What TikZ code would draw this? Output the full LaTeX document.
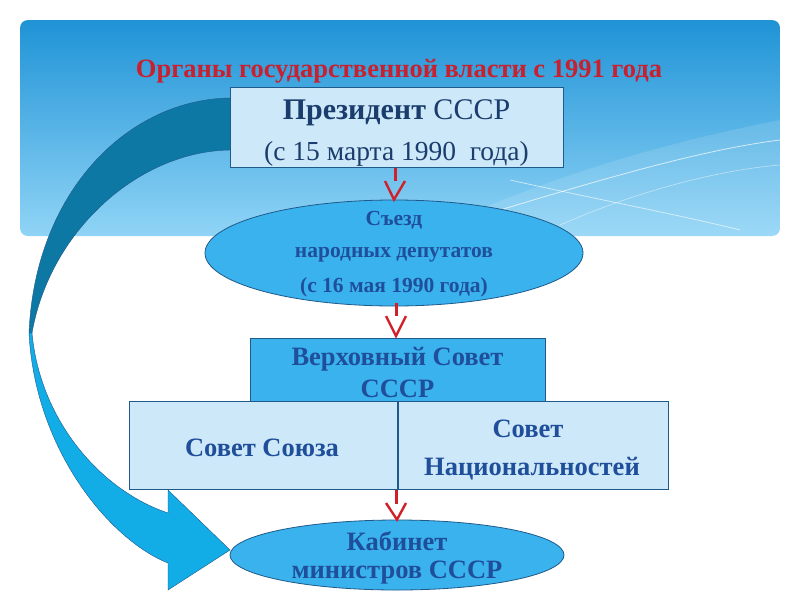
\documentclass[tikz,border=0pt]{standalone}
\usepackage{fontspec}
\setmainfont{Liberation Serif}
\usetikzlibrary{shapes.geometric}
\definecolor{bgtop}{HTML}{1F93D6}
\definecolor{bgbot}{HTML}{90D4F6}
\definecolor{titlered}{HTML}{C8202E}
\definecolor{lightbox}{HTML}{CDE8F8}
\definecolor{midblue}{HTML}{3AB2EE}
\definecolor{navy}{HTML}{1B3D6D}
\definecolor{txtblue}{HTML}{1F4E9A}
\definecolor{edgeblue}{HTML}{1F5A8A}
\definecolor{darkteal}{HTML}{0E78A4}
\definecolor{brightblue}{HTML}{12ACE6}
\definecolor{arrowred}{HTML}{D0202A}
\tikzset{
  lightrect/.style={draw=edgeblue, line width=0.8pt, fill=lightbox},
  midrect/.style={draw=edgeblue, line width=0.8pt, fill=midblue},
  oval/.style={ellipse, draw=edgeblue, line width=0.8pt, fill=midblue, inner sep=0pt},
  redstem/.style={draw=arrowred, line width=3pt},
  redvee/.style={draw=arrowred, line width=2.4pt, line join=miter},
  boxtext/.style={font=\bfseries\fontsize{26.5}{30}\selectfont, text=txtblue, align=center},
  ovaltext/.style={font=\bfseries\fontsize{21.5}{24}\selectfont, text=txtblue},
}
\begin{document}
\begin{tikzpicture}[x=1pt,y=-1pt]
\useasboundingbox (0,0) rectangle (800,600);
\fill[white] (0,0) rectangle (800,600);
% background panel
\shade[top color=bgtop, bottom color=bgbot, rounded corners=8pt] (20,20) rectangle (780,236);
\begin{scope}
\clip[rounded corners=8pt] (20,20) rectangle (780,236);
\fill[white, opacity=0.12] (420,236) .. controls (560,170) and (680,140) .. (780,120) -- (780,236) -- cycle;
\draw[white, opacity=0.7, line width=0.8pt] (500,210) .. controls (600,180) and (700,150) .. (780,140);
\draw[white, opacity=0.6, line width=0.8pt] (510,180) .. controls (600,200) and (680,215) .. (740,230);
\draw[white, opacity=0.5, line width=0.6pt] (560,225) .. controls (640,190) and (720,170) .. (780,165);
\end{scope}
% title
\node[font=\bfseries\fontsize{26.5}{30}\selectfont, text=titlered] (title) at (399,71) {Органы государственной власти с 1991 года};
% big curved arrow: upper dark part
\fill[darkteal, draw=edgeblue, line width=0.4pt]
  (232,98) .. controls (130,98) and (35,190) .. (29,333)
  -- (32,333) .. controls (50,230) and (140,150) .. (232,150) -- cycle;
% lower bright part with head
\fill[brightblue, draw=edgeblue, line width=0.4pt]
  (29,333) .. controls (35,450) and (110,540) .. (168,563)
  -- (168,590) -- (230,550) -- (168,490) -- (168,513)
  .. controls (100,490) and (40,420) .. (32,333) -- cycle;
% President box
\node[lightrect, minimum width=333pt, minimum height=80pt, inner sep=0pt] (pres) at (396.5,127) {};
\node[font=\fontsize{30}{34}\selectfont, text=navy] (presA) at (396.5,113) {\textbf{Президент} СССР};
\node[font=\fontsize{27.5}{32}\selectfont, text=navy] (presB) at (396.5,154) {(с 15 марта 1990\ \ года)};
% Congress ellipse
\node[oval, minimum width=378pt, minimum height=106pt] (cong) at (394,253) {};
\node[ovaltext] (congA) at (394,220) {Съезд};
\node[ovaltext] (congB) at (394,255) {народных депутатов};
\node[ovaltext] (congC) at (394,287) {(с 16 мая 1990 года)};
% Supreme Soviet
\node[midrect, minimum width=295pt, minimum height=63pt, inner sep=0pt] (vs) at (397.5,369.5) {};
\node[boxtext] (vsA) at (397.5,359) {Верховный Совет};
\node[boxtext] (vsB) at (397.5,389) {СССР};
% two chambers
\node[lightrect, minimum width=268pt, minimum height=88pt, inner sep=0pt] (su) at (263,445) {};
\node[lightrect, minimum width=270pt, minimum height=88pt, inner sep=0pt] (sn) at (533,445) {};
\node[boxtext] (suT) at (262,448) {Совет Союза};
\node[boxtext] (snA) at (528,429) {Совет};
\node[boxtext] (snB) at (532,469) {Национальностей};
% Cabinet ellipse
\node[oval, minimum width=334pt, minimum height=70pt] (cab) at (397,555) {};
\node[boxtext] (cabA) at (397,541) {Кабинет};
\node[boxtext] (cabB) at (397,573) {министров СССР};
% red arrows
\coordinate (r1a) at (395,168); \coordinate (r1b) at (395,181);
\draw[redstem] (r1a) -- (r1b);
\draw[redvee] (385,181) -- (cong.north) -- (405,181);
\coordinate (r2a) at (396,303); \coordinate (r2b) at (396,316);
\draw[redstem] (r2a) -- (r2b);
\draw[redvee] (386,316) -- (396,336) -- (406,316);
\coordinate (r3a) at (396,490); \coordinate (r3b) at (396,504);
\draw[redstem] (r3a) -- (r3b);
\draw[redvee] (386,503) -- (cab.north) -- (406,503);
\end{tikzpicture}
\end{document}
